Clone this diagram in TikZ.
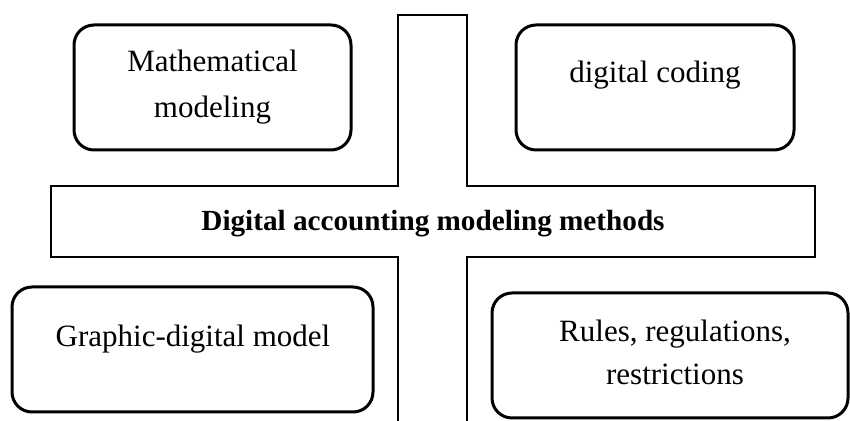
\documentclass[tikz,border=0pt]{standalone}
\usepackage{fontspec}
\setmainfont{Liberation Serif}
\begin{document}
\begin{tikzpicture}[x=0.5pt,y=-0.5pt,
  box/.style={draw,line width=1.5pt,rounded corners=10pt,inner sep=0pt},
  lbl/.style={font=\fontsize{15.5}{23}\selectfont,align=center,inner sep=0pt,anchor=base},
  bar/.style={draw,line width=1pt}]
\useasboundingbox (0,0) rectangle (850,421);
% cross outline
\coordinate (vtl) at (398,15);
\coordinate (vtr) at (467,15);
\draw[bar] (398,421) -- (398,257) -- (51,257) -- (51,186) -- (398,186) -- (vtl) -- (vtr) -- (467,186) -- (815,186) -- (815,257) -- (467,257) -- (467,421);
\node[lbl,font=\fontsize{14.6}{20}\selectfont\bfseries] (title) at (433,231) {Digital accounting modeling methods};
% boxes
\draw[box] (74,25) rectangle (351,150);
\node[lbl] (math1) at (212.5,72) {Mathematical};
\node[lbl] (math2) at (212.5,118) {modeling};
\draw[box] (516,25) rectangle (794,150);
\node[lbl] (dig) at (655,83) {digital coding};
\draw[box] (12,287) rectangle (373,412);
\node[lbl] (graph) at (193,347) {Graphic-digital model};
\draw[box] (492,293) rectangle (848,418);
\node[lbl] (rules1) at (675,342) {Rules, regulations,};
\node[lbl] (rules2) at (675,385) {restrictions};
\end{tikzpicture}
\end{document}
